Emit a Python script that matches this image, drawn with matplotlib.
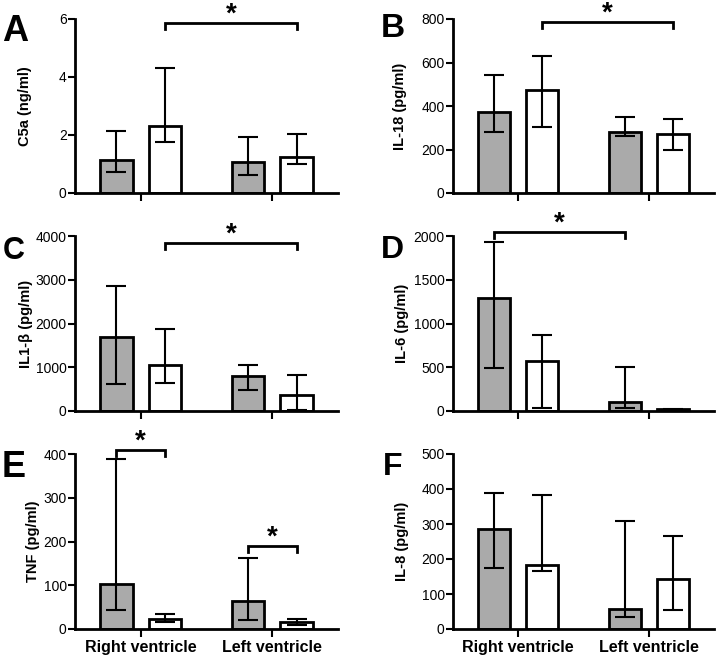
import matplotlib
matplotlib.use("Agg")
import matplotlib.pyplot as plt
import numpy as np

plt.rcParams["font.family"] = ["Liberation Sans", "DejaVu Sans"]

groups = ["Right ventricle", "Left ventricle"]

# medians with lower / upper whisker ends, [right ventricle, left ventricle]
c5a_gray = [1.13, 1.06]
c5a_gray_lo = [0.71, 0.63]
c5a_gray_hi = [2.13, 1.93]
c5a_white = [2.32, 1.24]
c5a_white_lo = [1.76, 1.00]
c5a_white_hi = [4.31, 2.02]

il18_gray = [372, 279]
il18_gray_lo = [280, 261]
il18_gray_hi = [543, 349]
il18_white = [472, 270]
il18_white_lo = [305, 196]
il18_white_hi = [628, 339]

il1b_gray = [1687, 809]
il1b_gray_lo = [618, 489]
il1b_gray_hi = [2855, 1061]
il1b_white = [1053, 366]
il1b_white_lo = [641, 15]
il1b_white_hi = [1863, 832]

il6_gray = [1286, 99]
il6_gray_lo = [496, 31]
il6_gray_hi = [1935, 508]
il6_white = [573, 19]
il6_white_lo = [31, 12]
il6_white_hi = [870, 26]

tnf_gray = [103, 63]
tnf_gray_lo = [43, 21]
tnf_gray_hi = [389, 163]
tnf_white = [24, 16]
tnf_white_lo = [16, 10]
tnf_white_hi = [35, 24]

il8_gray = [286, 58]
il8_gray_lo = [175, 34]
il8_gray_hi = [390, 309]
il8_white = [184, 144]
il8_white_lo = [166, 53]
il8_white_hi = [382, 266]

W, H = 716, 655
GRAY = "#aaaaaa"
OFF = 0.185
BW = 0.245

# panel: letter, ylabel, ymax, step, data, brackets (bar a, bar b, height), letter size/pos, ylabel x (px)
panels = [
    ("A", "C5a (ng/ml)", 6, 2,
     (c5a_gray, c5a_gray_lo, c5a_gray_hi, c5a_white, c5a_white_lo, c5a_white_hi),
     [(1, 3, 5.86)], (75, 338, 19, 193), (2, 41, 26), 32),
    ("B", "IL-18 (pg/ml)", 800, 200,
     (il18_gray, il18_gray_lo, il18_gray_hi, il18_white, il18_white_lo, il18_white_hi),
     [(1, 3, 788)], (453, 714, 19, 193), (381, 37, 24), 407),
    ("C", "IL1-β (pg/ml)", 4000, 1000,
     (il1b_gray, il1b_gray_lo, il1b_gray_hi, il1b_white, il1b_white_lo, il1b_white_hi),
     [(1, 3, 3832)], (75, 338, 236, 411), (3, 259, 22), 33),
    ("D", "IL-6 (pg/ml)", 2000, 500,
     (il6_gray, il6_gray_lo, il6_gray_hi, il6_white, il6_white_lo, il6_white_hi),
     [(0, 2, 2050)], (453, 714, 236, 411), (381, 258, 23), 409),
    ("E", "TNF (pg/ml)", 400, 100,
     (tnf_gray, tnf_gray_lo, tnf_gray_hi, tnf_white, tnf_white_lo, tnf_white_hi),
     [(0, 1, 410), (2, 3, 189)], (75, 338, 454, 629), (2, 477, 26), 40),
    ("F", "IL-8 (pg/ml)", 500, 100,
     (il8_gray, il8_gray_lo, il8_gray_hi, il8_white, il8_white_lo, il8_white_hi),
     [], (453, 714, 454, 629), (383, 475, 23), 409),
]

fig = plt.figure(figsize=(W / 100, H / 100), dpi=100)

for letter, ylabel, ymax, step, data, brackets, box, lpos, lab_x in panels:
    x0, x1, y0, y1 = box
    ax = fig.add_axes([x0 / W, 1 - y1 / H, (x1 - x0) / W, (y1 - y0) / H])
    g, glo, ghi, w, wlo, whi = [np.asarray(v, dtype=float) for v in data]
    xc = np.arange(len(groups))
    xg = xc - OFF
    xw = xc + OFF

    ax.bar(xg, g, BW, color=GRAY, edgecolor="black", linewidth=2, zorder=2)
    ax.bar(xw, w, BW, color="white", edgecolor="black", linewidth=2, zorder=2)
    for xs, m, lo, hi in ((xg, g, glo, ghi), (xw, w, wlo, whi)):
        ax.errorbar(xs, m, yerr=[m - lo, hi - m], fmt="none", ecolor="black",
                    elinewidth=1.5, capsize=7, capthick=1.5, zorder=3, clip_on=False)

    bar_x = [xg[0], xw[0], xg[1], xw[1]]
    tip = ymax * 0.035
    for a, b, yb in brackets:
        ax.plot([bar_x[a], bar_x[a], bar_x[b], bar_x[b]], [yb - tip, yb, yb, yb - tip],
                color="black", lw=2, clip_on=False, solid_joinstyle="miter")
        ax.annotate("*", xy=((bar_x[a] + bar_x[b]) / 2, yb), xytext=(0, 1),
                    textcoords="offset points", ha="center", va="baseline",
                    fontsize=20, fontweight="bold", annotation_clip=False)

    ax.set_xlim(-0.5, 1.5)
    ax.set_ylim(0, ymax)
    ax.set_yticks(np.arange(0, ymax + step / 2, step))
    ax.set_xticks(xc)
    if letter in ("E", "F"):
        ax.set_xticklabels(groups, fontsize=11.5, fontweight="bold")
    else:
        ax.set_xticklabels([])
    ax.tick_params(axis="y", direction="out", length=5, width=1.5, labelsize=10, pad=1)
    ax.tick_params(axis="x", direction="out", length=6, width=1.5, pad=2)
    for side in ("top", "right"):
        ax.spines[side].set_visible(False)
    for side in ("left", "bottom"):
        ax.spines[side].set_linewidth(2)
    ax.set_ylabel(ylabel, fontsize=10.5, fontweight="bold")
    ax.yaxis.set_label_coords((lab_x - x0) / (x1 - x0), 0.5)

    lx, ly, ls = lpos
    fig.text(lx / W, 1 - ly / H, letter, fontsize=ls, fontweight="bold",
             ha="left", va="baseline")

fig.savefig("out.png", dpi=100)
